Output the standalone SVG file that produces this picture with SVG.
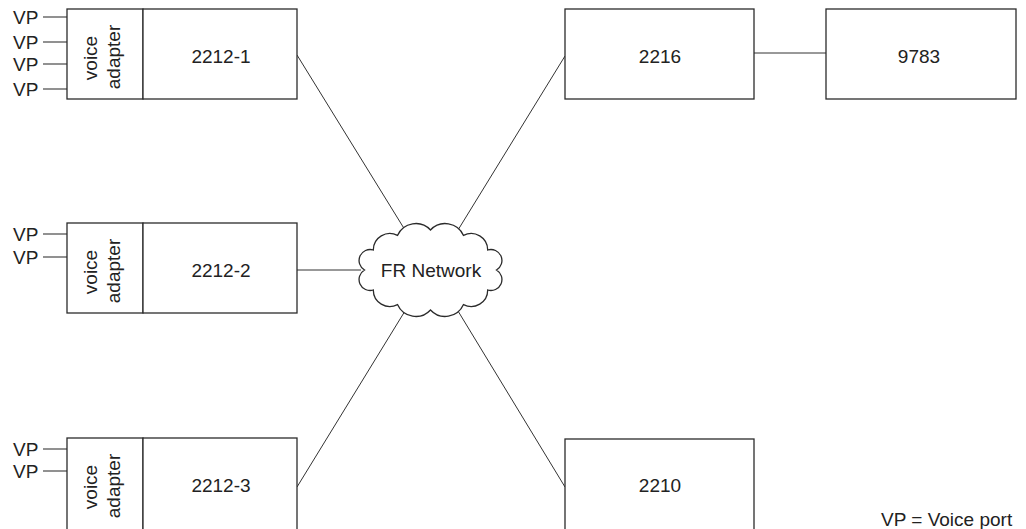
<svg xmlns="http://www.w3.org/2000/svg" width="1026" height="529" viewBox="0 0 1026 529">
<style>
.box{fill:#fff;stroke:#2b2b2b;stroke-width:1.3}
.ln{stroke:#333;stroke-width:1;fill:none}
.vp{stroke:#555;stroke-width:1.3;fill:none}
text{font-family:"Liberation Sans",Arial,sans-serif;font-size:19px;fill:#222}
.c{text-anchor:middle}
</style>
<rect width="1026" height="529" fill="#fff"/>
<g id="connectors">
<line class="ln" x1="297" y1="55" x2="405" y2="230"/>
<line class="ln" x1="565" y1="56" x2="458" y2="230"/>
<line class="ln" x1="297" y1="270" x2="361" y2="270"/>
<line class="ln" x1="297" y1="487" x2="405" y2="311"/>
<line class="ln" x1="565" y1="487" x2="458" y2="311"/>
<line class="ln" x1="754" y1="53" x2="826" y2="53"/>
</g>
<g id="node-2212-1">
<line class="vp" x1="43" y1="17" x2="67" y2="17"/>
<line class="vp" x1="43" y1="42" x2="67" y2="42"/>
<line class="vp" x1="43" y1="64" x2="67" y2="64"/>
<line class="vp" x1="43" y1="89" x2="67" y2="89"/>
<text x="13" y="24">VP</text>
<text x="13" y="49">VP</text>
<text x="13" y="71">VP</text>
<text x="13" y="96">VP</text>
<rect class="box" x="67" y="9" width="76" height="90"/>
<rect class="box" x="143" y="9" width="154" height="90"/>
<text class="c" transform="translate(97,58) rotate(-90)">voice</text>
<text class="c" transform="translate(120,57) rotate(-90)">adapter</text>
<text class="c" x="221" y="63">2212-1</text>
</g>
<g id="node-2212-2">
<line class="vp" x1="43" y1="234" x2="67" y2="234"/>
<line class="vp" x1="43" y1="257" x2="67" y2="257"/>
<text x="13" y="241">VP</text>
<text x="13" y="264">VP</text>
<rect class="box" x="67" y="223" width="76" height="90"/>
<rect class="box" x="143" y="223" width="154" height="90"/>
<text class="c" transform="translate(97,272) rotate(-90)">voice</text>
<text class="c" transform="translate(120,271) rotate(-90)">adapter</text>
<text class="c" x="221" y="277">2212-2</text>
</g>
<g id="node-2212-3">
<line class="vp" x1="43" y1="449" x2="67" y2="449"/>
<line class="vp" x1="43" y1="471" x2="67" y2="471"/>
<text x="13" y="456">VP</text>
<text x="13" y="478">VP</text>
<rect class="box" x="67" y="438" width="76" height="95"/>
<rect class="box" x="143" y="438" width="154" height="95"/>
<text class="c" transform="translate(97,487) rotate(-90)">voice</text>
<text class="c" transform="translate(120,486) rotate(-90)">adapter</text>
<text class="c" x="221" y="492">2212-3</text>
</g>
<g id="node-cloud">
<path class="box" d="M496.5,270 A11,11 0 0 1 487.7,290 A16.5,16.5 0 0 1 463.5,304.6 A20,20 0 0 1 430.5,310 A20,20 0 0 1 397.5,304.6 A16.5,16.5 0 0 1 373.3,290 A11,11 0 0 1 364.5,270 A11,11 0 0 1 373.3,250 A16.5,16.5 0 0 1 397.5,235.4 A20,20 0 0 1 430.5,230 A20,20 0 0 1 463.5,235.4 A16.5,16.5 0 0 1 487.7,250 A11,11 0 0 1 496.5,270 Z"/>
<text class="c" x="431" y="277">FR Network</text>
</g>
<g id="node-2216">
<rect class="box" x="565" y="9" width="189" height="90"/>
<text class="c" x="660" y="63">2216</text>
</g>
<g id="node-9783">
<rect class="box" x="826" y="9" width="190" height="90"/>
<text class="c" x="919" y="63">9783</text>
</g>
<g id="node-2210">
<rect class="box" x="565" y="439" width="189" height="95"/>
<text class="c" x="660" y="492">2210</text>
</g>
<text x="881" y="526">VP = Voice port</text>
</svg>
